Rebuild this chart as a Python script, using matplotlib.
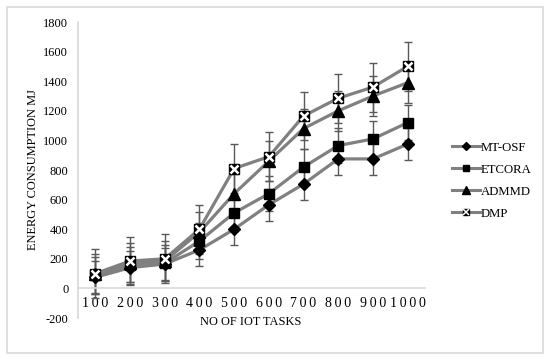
import numpy as np
import matplotlib
matplotlib.use("Agg")
import matplotlib.pyplot as plt
from matplotlib.lines import Line2D
from matplotlib.patches import Rectangle

plt.rcParams["font.family"] = ["Liberation Serif", "DejaVu Serif"]
plt.rcParams["axes.unicode_minus"] = False

# data
tasks = ["100", "200", "300", "400", "500", "600", "700", "800", "900", "1000"]
mt_osf = [75, 140, 165, 260, 400, 565, 705, 875, 875, 975]
etcora = [90, 160, 170, 320, 510, 640, 820, 965, 1010, 1120]
admmd = [95, 175, 185, 380, 640, 860, 1080, 1200, 1300, 1390]
dmp = [100, 185, 200, 400, 810, 890, 1165, 1285, 1360, 1500]
err_mt_osf = 110
err_etcora = 120
err_admmd = 135
err_dmp = 165

x = np.arange(len(tasks))
line_gray = "#808080"
err_col = "#595959"
fs = 8.9

fig = plt.figure(figsize=(5.5, 3.59), dpi=100)
ax = fig.add_axes([0.1418, 0.1142, 0.7727 - 0.1418, 0.9387 - 0.1142])

series = [
    (mt_osf, err_mt_osf, "D", 6.5),
    (etcora, err_etcora, "s", 7.5),
    (admmd, err_admmd, "^", 8.5),
    (dmp, err_dmp, "s", 7.5),
]
for vals, err, mk, ms in series:
    ax.errorbar(x, vals, yerr=err, fmt="none", ecolor=err_col, elinewidth=1,
                capsize=3, capthick=1, zorder=2)
for vals, err, mk, ms in series:
    ax.plot(x, vals, color=line_gray, lw=2.3, marker=mk, ms=ms,
            mfc="black", mec="black", zorder=3)
ax.plot(x, dmp, ls="none", marker="x", ms=6, mew=1.8, color="white", zorder=4)

ax.set_xlim(-0.5, 9.5)
ax.set_ylim(-200, 1800)
ax.set_yticks(np.arange(-200, 1801, 200))
ax.set_xticks(x)
ax.set_xticklabels(["\u2009".join(t) for t in tasks], fontsize=fs)
ax.tick_params(axis="y", length=0, pad=7, labelsize=fs)
ax.tick_params(axis="x", length=0, pad=6)

for s in ["top", "right"]:
    ax.spines[s].set_visible(False)
ax.spines["bottom"].set_position(("data", 0))
ax.spines["bottom"].set_color("#d9d9d9")
ax.spines["left"].set_color("#d9d9d9")
ax.spines["bottom"].set_linewidth(1.2)
ax.spines["left"].set_linewidth(1.2)

fig.text(33 / 550, 1 - 170 / 359, "ENERGY CONSUMPTION MJ", rotation=90,
         ha="center", va="center", fontsize=fs)
fig.text(251 / 550, 1 - 322 / 359, "NO OF IOT TASKS", ha="center",
         va="center", fontsize=fs)

handles = [
    Line2D([], [], color=line_gray, lw=2.2, marker="D", ms=4, mfc="black", mec="black"),
    Line2D([], [], color=line_gray, lw=2.2, marker="s", ms=5, mfc="black", mec="black"),
    Line2D([], [], color=line_gray, lw=2.2, marker="^", ms=5.5, mfc="black", mec="black"),
    (Line2D([], [], color=line_gray, lw=2.2, marker="s", ms=5, mfc="black", mec="black"),
     Line2D([], [], ls="none", marker="x", ms=3.8, mew=1.1, color="white")),
]
fig.legend(handles, ["MT-OSF", "ETCORA", "ADMMD", "DMP"], loc="upper left",
           bbox_to_anchor=(0.8, 0.637), frameon=False, fontsize=fs + 0.3,
           handlelength=2.2, handletextpad=0.1, labelspacing=0.78)

fig.add_artist(Rectangle((7 / 550, 6 / 359), 536 / 550, 346 / 359,
                         transform=fig.transFigure, fill=False,
                         edgecolor="#d9d9d9", lw=1.2))

fig.savefig("out.png", dpi=100)
